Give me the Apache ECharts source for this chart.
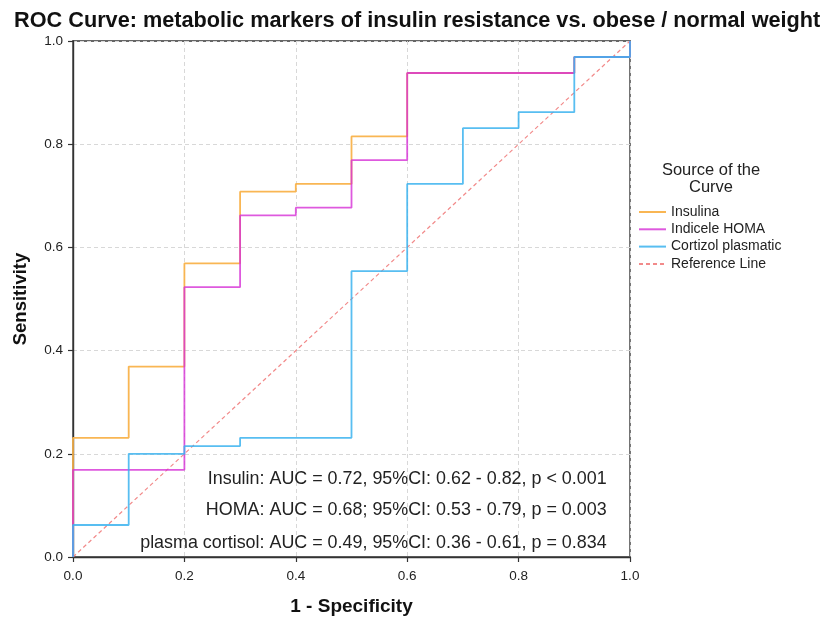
<!DOCTYPE html>
<html>
<head>
<meta charset="utf-8">
<script src="https://cdn.jsdelivr.net/npm/echarts@6/dist/echarts.min.js"></script>
<style>html,body{margin:0;padding:0;background:#fff}#c{width:825px;height:621px}</style>
</head>
<body>
<div id="c"></div>
<script>
const titleText = 'ROC Curve: metabolic markers of insulin resistance vs. obese / normal weight';
const xName = '1 - Specificity';
const yName = 'Sensitivity';
const legendTitle = 'Source of the\nCurve';
const seriesNames = ['Insulina', 'Indicele HOMA', 'Cortizol plasmatic', 'Reference Line'];

// ROC corner points (1 - specificity, sensitivity)
const insulinFPR = [0, 0, 0.1, 0.1, 0.2, 0.2, 0.3, 0.3, 0.4, 0.4, 0.5, 0.5, 0.6, 0.6, 0.9, 0.9, 1.0, 1.0];
const insulinTPR = [0, 0.231, 0.231, 0.369, 0.369, 0.569, 0.569, 0.708, 0.708, 0.723, 0.723, 0.815, 0.815, 0.938, 0.938, 0.969, 0.969, 1.0];

const homaFPR = [0, 0, 0.2, 0.2, 0.3, 0.3, 0.4, 0.4, 0.5, 0.5, 0.6, 0.6, 0.9, 0.9, 1.0, 1.0];
const homaTPR = [0, 0.169, 0.169, 0.523, 0.523, 0.662, 0.662, 0.677, 0.677, 0.769, 0.769, 0.938, 0.938, 0.969, 0.969, 1.0];

const cortisolFPR = [0, 0, 0.1, 0.1, 0.2, 0.2, 0.3, 0.3, 0.5, 0.5, 0.6, 0.6, 0.7, 0.7, 0.8, 0.8, 0.9, 0.9, 1.0, 1.0];
const cortisolTPR = [0, 0.062, 0.062, 0.2, 0.2, 0.215, 0.215, 0.231, 0.231, 0.554, 0.554, 0.723, 0.723, 0.831, 0.831, 0.862, 0.862, 0.969, 0.969, 1.0];

const refX = [0, 1];
const refY = [0, 1];

const annotations = [
  'Insulin: AUC = 0.72, 95%CI: 0.62 - 0.82, p < 0.001',
  'HOMA: AUC = 0.68; 95%CI: 0.53 - 0.79, p = 0.003',
  'plasma cortisol: AUC = 0.49, 95%CI: 0.36 - 0.61, p = 0.834'
];
const annotY = [0.152, 0.0906, 0.027];

function pairs(xs, ys) { return xs.map((x, i) => [x, ys[i]]); }

const colors = ['#F9B24A', '#D630D6', '#3BB3EE', '#F28A8A'];
const lineOpacity = [0.95, 0.8, 0.85];
const FONT = '"Liberation Sans", Arial, sans-serif';

const chart = echarts.init(document.getElementById('c'), null, {renderer: 'canvas'});
const gridL = 73, gridT = 41, gridR = 195, gridB = 61;

const series = [
  {name: seriesNames[0], data: pairs(insulinFPR, insulinTPR)},
  {name: seriesNames[1], data: pairs(homaFPR, homaTPR)},
  {name: seriesNames[2], data: pairs(cortisolFPR, cortisolTPR)}
].map((s, i) => ({
  type: 'line', name: s.name, data: s.data, symbol: 'none', showSymbol: false,
  animation: false, color: colors[i], itemStyle: {opacity: 0},
  lineStyle: {color: colors[i], width: 1.8, opacity: lineOpacity[i]}, z: 3 + i
}));
series.push({
  type: 'line', name: seriesNames[3], data: pairs(refX, refY), symbol: 'none',
  animation: false, color: colors[3], itemStyle: {opacity: 0},
  lineStyle: {color: colors[3], width: 1.2, type: [4, 3]}, z: 2
});

chart.setOption({
  backgroundColor: '#fff',
  animation: false,
  title: {
    text: titleText, left: 9, top: 5,
    textStyle: {fontFamily: FONT, fontSize: 21.7, fontWeight: 'bold', color: '#111'}
  },
  grid: {left: gridL, top: gridT, right: gridR, bottom: gridB, show: true, borderColor: '#666', borderWidth: 1.8},
  xAxis: {
    type: 'value', min: 0, max: 1, interval: 0.2,
    name: xName, nameLocation: 'middle', nameGap: 40,
    nameTextStyle: {fontFamily: FONT, fontSize: 19, fontWeight: 'bold', color: '#111'},
    axisLine: {show: true, lineStyle: {color: '#333', width: 1.4}},
    axisTick: {show: true, length: 5, lineStyle: {color: '#333', width: 1.2}},
    axisLabel: {fontFamily: FONT, fontSize: 13.5, color: '#222', margin: 12, formatter: v => v.toFixed(1)},
    splitLine: {show: true, lineStyle: {color: '#d8d8d8', type: [4, 3]}}
  },
  yAxis: {
    type: 'value', min: 0, max: 1, interval: 0.2,
    name: yName, nameLocation: 'middle', nameGap: 43,
    nameTextStyle: {fontFamily: FONT, fontSize: 18.5, fontWeight: 'bold', color: '#111'},
    axisLine: {show: true, lineStyle: {color: '#333', width: 1.4}},
    axisTick: {show: true, length: 5, lineStyle: {color: '#333', width: 1.2}},
    axisLabel: {fontFamily: FONT, fontSize: 13.5, color: '#222', margin: 10, formatter: v => v.toFixed(1)},
    splitLine: {show: true, lineStyle: {color: '#d8d8d8', type: [4, 3]}}
  },
  legend: {
    orient: 'vertical', left: 638, top: 205, padding: 0, itemWidth: 27, itemHeight: 14, itemGap: 3.3,
    data: seriesNames,
    itemStyle: {opacity: 0, borderWidth: 0},
    textStyle: {fontFamily: FONT, fontSize: 14, color: '#222'},
    selectedMode: false
  },
  series: series
});

const legendTitleEl = {
  type: 'text', x: 711, y: 162, z: 10, silent: true,
  style: {text: legendTitle, fontFamily: FONT, fontSize: 16.5, fill: '#222', align: 'center', lineHeight: 17}
};
// annotations placed via the axis scale
const ann = annotations.map((t, i) => {
  const p = chart.convertToPixel({gridIndex: 0}, [0.958, annotY[i]]);
  return {type: 'text', silent: true, z: 10, x: p[0], y: p[1],
    style: {text: t, fontFamily: FONT, fontSize: 17.9, fill: '#222', align: 'right', verticalAlign: 'middle'}};
});
chart.setOption({graphic: [legendTitleEl].concat(ann)});
</script>
</body>
</html>
